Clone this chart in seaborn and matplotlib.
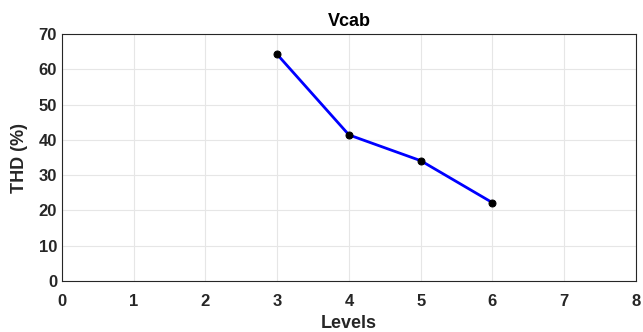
import matplotlib
matplotlib.use("Agg")
import matplotlib.pyplot as plt
import seaborn as sns
import pandas as pd

levels = [3, 4, 5, 6]
thd = [64.2, 41.4, 34.1, 22.2]
x_ticks = [0, 1, 2, 3, 4, 5, 6, 7, 8]
y_ticks = [0, 10, 20, 30, 40, 50, 60, 70]

sns.set_style("white")
plt.rcParams['font.family'] = ['Liberation Sans', 'DejaVu Sans']
plt.rcParams['font.weight'] = 'bold'

df = pd.DataFrame({"Levels": levels, "THD": thd})

fig = plt.figure(figsize=(6.43, 3.32), dpi=100)
ax = fig.add_axes([0.0964, 0.1536, 0.8926, 0.744])
sns.lineplot(data=df, x="Levels", y="THD", ax=ax, color="#0000ff", linewidth=2.0,
             marker="o", markersize=5, markerfacecolor="black", markeredgecolor="black")
ax.set_xlim(0, 8)
ax.set_ylim(0, 70)
ax.set_xticks(x_ticks)
ax.set_yticks(y_ticks)
ax.grid(True, color="#e6e6e6", linewidth=0.8)
for s in ax.spines.values():
    s.set_color("#262626")
    s.set_linewidth(0.8)
ax.tick_params(axis="both", labelsize=12, colors="#262626", direction="in", length=3, width=0.6)
ax.tick_params(axis="x", pad=9)
ax.tick_params(axis="y", pad=3.5)
for lab in ax.get_xticklabels() + ax.get_yticklabels():
    lab.set_fontweight("bold")
ax.set_xlabel("Levels", fontsize=13, fontweight="bold", color="#262626", labelpad=5)
ax.set_ylabel("THD (%)", fontsize=13, fontweight="bold", color="#262626", labelpad=8)
ax.set_title("Vcab", fontsize=13, fontweight="bold", color="black", pad=6)
fig.savefig("out.png", dpi=100)
